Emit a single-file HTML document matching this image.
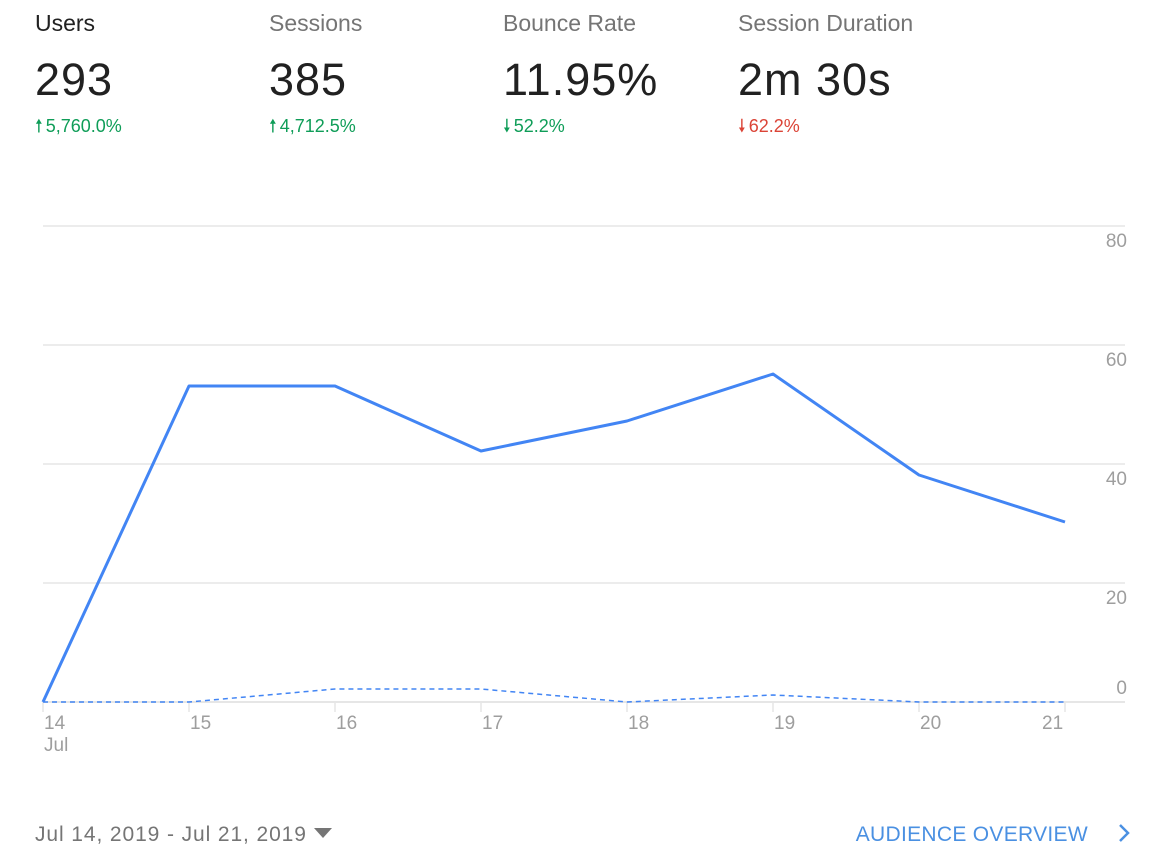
<!DOCTYPE html>
<html><head><style>
body{margin:0;width:1162px;height:860px;background:#fff;font-family:"Liberation Sans",sans-serif;overflow:hidden;position:relative}
.m{position:absolute;top:10px}
.t{font-size:23px;color:#757575}
.v{font-size:45px;color:#212121;margin-top:17px;letter-spacing:1px}
.c{font-size:18px;margin-top:8px}
.g{color:#0f9d58}.r{color:#db4437}
.a{display:inline-block;margin-right:3px}
</style></head><body>
<div class="m" style="left:35px"><div class="t" style="color:#212121">Users</div><div class="v">293</div><div class="c g"><span class="a">&#129045;</span>5,760.0%</div></div>
<div class="m" style="left:269px"><div class="t">Sessions</div><div class="v">385</div><div class="c g"><span class="a">&#129045;</span>4,712.5%</div></div>
<div class="m" style="left:503px"><div class="t">Bounce Rate</div><div class="v">11.95%</div><div class="c g"><span class="a">&#129047;</span>52.2%</div></div>
<div class="m" style="left:738px"><div class="t">Session Duration</div><div class="v">2m 30s</div><div class="c r"><span class="a">&#129047;</span>62.2%</div></div>
<svg width="1162" height="860" style="position:absolute;left:0;top:0" font-family="Liberation Sans" font-size="19" fill="#9e9e9e">
<g stroke="#e6e6e6" stroke-width="1.5">
<line x1="43" y1="226" x2="1125" y2="226"/><line x1="43" y1="345" x2="1125" y2="345"/><line x1="43" y1="464" x2="1125" y2="464"/><line x1="43" y1="583" x2="1125" y2="583"/><line x1="43" y1="702" x2="1125" y2="702" stroke-width="2"/>
<line x1="43" y1="702" x2="43" y2="712"/><line x1="189" y1="702" x2="189" y2="712"/><line x1="335" y1="702" x2="335" y2="712"/><line x1="481" y1="702" x2="481" y2="712"/><line x1="627" y1="702" x2="627" y2="712"/><line x1="773" y1="702" x2="773" y2="712"/><line x1="919" y1="702" x2="919" y2="712"/><line x1="1065" y1="702" x2="1065" y2="712"/>
</g>
<g text-anchor="end"><text x="1127" y="247">80</text><text x="1127" y="366">60</text><text x="1127" y="485">40</text><text x="1127" y="604">20</text><text x="1127" y="694">0</text></g>
<text x="44" y="729">14</text><text x="44" y="751">Jul</text><text x="190" y="729">15</text><text x="336" y="729">16</text><text x="482" y="729">17</text><text x="628" y="729">18</text><text x="774" y="729">19</text><text x="920" y="729">20</text><text x="1042" y="729">21</text>
<polyline fill="none" stroke="#4285f4" stroke-width="3" stroke-linejoin="round" points="43,702 189,386 335,386 481,451 627,421 773,374 919,475 1065,522"/>
<polyline fill="none" stroke="#4285f4" stroke-width="1.5" stroke-dasharray="5,4" points="43,702 189,702 335,689 481,689 627,702 773,695 919,702 1065,702"/>
<text x="35" y="841" font-size="21" fill="#757575" letter-spacing="0.9">Jul 14, 2019 - Jul 21, 2019</text>
<polygon points="314,828 332,828 323,838" fill="#757575"/>
<text x="1088" y="841" font-size="21" fill="#4a90e2" text-anchor="end" letter-spacing="0.3">AUDIENCE OVERVIEW</text>
<polyline points="1120,825 1128,833 1120,841" fill="none" stroke="#4a90e2" stroke-width="2.5"/>
</svg>
</body></html>
